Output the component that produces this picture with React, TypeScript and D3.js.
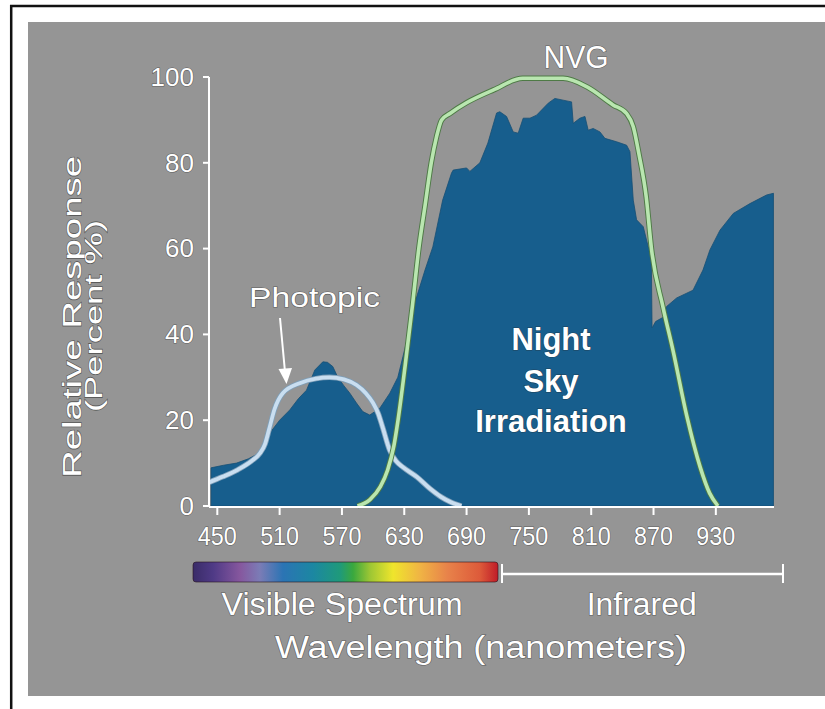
import React from "react";
import * as d3 from "d3";

// ---- data ----
const xTicks = [450, 510, 570, 630, 690, 750, 810, 870, 930];
const yTicks = [0, 20, 40, 60, 80, 100];

const skyNm = [444, 456, 468.5, 480, 491, 500.6, 510, 519.8, 528, 535.9, 543.9, 551.6, 556, 561.2, 566, 572, 577.6, 584, 590.1, 596.8, 606.5, 616.1, 623.8, 628.7, 636, 641, 650, 657.5, 667, 675.5, 677.1, 690, 693.2, 702.8, 710.5, 718.9, 722, 728.5, 734.9, 739.7, 744.5, 751, 757.4, 762.2, 768.6, 775, 783, 791.1, 792.7, 799.1, 804, 807.1, 811.9, 818.4, 823.2, 834.5, 844.1, 847.3, 850.5, 853.7, 860.1, 864.9, 867.8, 868.6, 872, 879.3, 882.6, 892.3, 908, 917.6, 924.3, 934, 946.8, 962.9, 978.9, 985.5];
const skyPct = [8.9, 9.5, 10, 11, 12.4, 17, 20, 22.4, 25, 27, 31.7, 33.6, 33.5, 32.5, 30, 28, 26.3, 24, 22, 21.2, 22.8, 26.3, 30, 34.8, 42, 48, 55, 60.4, 71.3, 77.6, 78.3, 78.8, 78, 80, 84.6, 91.6, 91.9, 90.8, 87.2, 86.9, 90.4, 90.4, 91.1, 92.3, 93.9, 95, 94.6, 94.2, 89.2, 90.4, 90.8, 87.6, 88, 87.2, 85.7, 84.9, 84.1, 82.6, 71.3, 66.7, 65.1, 60.4, 59, 41.5, 43, 44, 46.5, 48.5, 50.3, 55, 59.7, 64.3, 68.2, 70.5, 72.5, 72.9];

const photNm = [442, 455, 470, 483, 491, 496, 500, 505, 513, 530, 545, 558, 572, 584, 593, 600, 605, 609, 616, 622, 629, 642, 655, 665, 674, 685];
const photPct = [5.5, 6.8, 8.5, 10.5, 12.3, 14.5, 18, 22.5, 26.3, 28.7, 29.7, 30, 29.5, 28.2, 26.3, 24, 21.5, 18.5, 13, 10.5, 9, 6.8, 4, 2.2, 1, 0];

const nvgNm = [585, 597, 607, 614, 620, 624, 631, 638, 644, 650, 656, 661, 666, 674, 690, 716, 744, 783, 806, 831, 844, 850.5, 856, 863, 868, 879, 889, 902, 915, 924, 932];
const nvgPct = [0, 1.5, 4.5, 8.4, 14, 20, 33, 47, 60, 70, 80, 86, 90, 91.5, 94, 97, 99.7, 99.7, 97.7, 93.5, 91.5, 88.4, 82, 72, 60, 46.5, 36, 21, 9, 3, 0];

const spectrumStops = [
  [0, "#3a2c68"], [0.066, "#4f3a86"], [0.154, "#86579e"], [0.219, "#7b7cb6"],
  [0.295, "#2b74b4"], [0.393, "#1c87a2"], [0.482, "#1f9a7a"], [0.525, "#3aa83e"],
  [0.58, "#9cc634"], [0.656, "#efe52c"], [0.744, "#f0b444"], [0.833, "#e8834a"],
  [0.941, "#dd5a3a"], [1, "#c01c28"],
] as const;

const W = 825, H = 709;
const FONT = "'Liberation Sans', Arial, Helvetica, sans-serif";

export default function App() {
  const x = d3.scaleLinear().domain([442, 986]).range([209, 774]);
  const y = d3.scaleLinear().domain([0, 100]).range([506, 77]);

  const sky = skyNm.map((n, i) => [n, skyPct[i]] as [number, number]);
  const phot = photNm.map((n, i) => [n, photPct[i]] as [number, number]);
  const nvg = nvgNm.map((n, i) => [n, nvgPct[i]] as [number, number]);

  const area = d3.area<[number, number]>().x(d => x(d[0])).y0(y(0)).y1(d => y(d[1])).curve(d3.curveLinear);
  const line = d3.line<[number, number]>().x(d => x(d[0])).y(d => y(d[1])).curve(d3.curveMonotoneX);

  const txt = {
    fill: "#ffffff",
    stroke: "rgba(40,40,40,0.55)",
    strokeWidth: 1.2,
    paintOrder: "stroke" as const,
    fontFamily: FONT,
  };

  const axisColor = "#ffffff";
  const x0 = x(442), xEnd = x(986);

  return (
    <svg width={W} height={H} style={{ position: "absolute", left: 0, top: 0, display: "block" }}>
      <defs>
        <linearGradient id="spec" x1="0" x2="1" y1="0" y2="0">
          {spectrumStops.map(([o, c], i) => <stop key={i} offset={o} stopColor={c} />)}
        </linearGradient>
      </defs>
      <rect x={0} y={0} width={W} height={H} fill="#ffffff" />
      <rect x={28} y={22} width={W - 28} height={696 - 22} fill="#959595" />
      <line x1={10} x2={W} y1={6} y2={6} stroke="#111" strokeWidth={2.5} />
      <line x1={11.2} x2={11.2} y1={5} y2={H} stroke="#111" strokeWidth={2.5} />

      {/* night sky irradiation */}
      <path d={area(sky) || ""} fill="#175e8d" stroke="#164f75" strokeWidth={0.8} />

      {/* photopic */}
      <path d={line(phot) || ""} fill="none" stroke="#7f9fb8" strokeWidth={5.5} />
      <path d={line(phot) || ""} fill="none" stroke="#c9def0" strokeWidth={3.8} />

      {/* NVG */}
      <path d={line(nvg) || ""} fill="none" stroke="#4e7a46" strokeWidth={5.5} />
      <path d={line(nvg) || ""} fill="none" stroke="#b9e6b0" strokeWidth={3.6} />

      {/* axes */}
      <line x1={x0} x2={x0} y1={y(100)} y2={y(0) + 1} stroke={axisColor} strokeWidth={2} />
      <line x1={x0} x2={xEnd} y1={y(0) + 1} y2={y(0) + 1} stroke={axisColor} strokeWidth={2.2} />
      {yTicks.map(t => (
        <g key={t}>
          <line x1={x0 - 6} x2={x0} y1={y(t)} y2={y(t)} stroke={axisColor} strokeWidth={2} />
          <text {...txt} x={194} y={y(t)} dy="0.34em" textAnchor="end" fontSize={26}>{t}</text>
        </g>
      ))}
      {xTicks.map(t => (
        <g key={t}>
          <line x1={x(t)} x2={x(t)} y1={y(0) + 1} y2={y(0) + 9} stroke={axisColor} strokeWidth={2} />
          <text {...txt} x={x(t)} y={545} textAnchor="middle" fontSize={25} textLength={39} lengthAdjust="spacingAndGlyphs">{t}</text>
        </g>
      ))}

      {/* y axis title */}
      <g transform="translate(81,317) rotate(-90)">
        <text {...txt} x={0} y={0} textAnchor="middle" fontSize={26} textLength={322} lengthAdjust="spacingAndGlyphs">Relative Response</text>
      </g>
      <g transform="translate(102,316) rotate(-90)">
        <text {...txt} x={0} y={0} textAnchor="middle" fontSize={24} textLength={192} lengthAdjust="spacingAndGlyphs">(Percent %)</text>
      </g>

      {/* labels */}
      <text {...txt} x={576} y={68} textAnchor="middle" fontSize={31} textLength={65} lengthAdjust="spacingAndGlyphs">NVG</text>
      <text {...txt} x={314.5} y={307} textAnchor="middle" fontSize={28} textLength={131} lengthAdjust="spacingAndGlyphs">Photopic</text>
      <line x1={280} y1={318} x2={285} y2={372} stroke="#fff" strokeWidth={2} />
      <path d="M278.5,369 L292,368 L286.5,384 Z" fill="#fff" />

      <g fontWeight="bold">
        <text {...txt} x={551} y={350} textAnchor="middle" fontSize={31}>Night</text>
        <text {...txt} x={551} y={391.5} textAnchor="middle" fontSize={31}>Sky</text>
        <text {...txt} x={551} y={431.5} textAnchor="middle" fontSize={31}>Irradiation</text>
      </g>

      {/* spectrum bar */}
      <rect x={193} y={562} width={305} height={20} rx={3} fill="url(#spec)" stroke="rgba(40,20,30,0.6)" strokeWidth={1} />
      <line x1={502} x2={783} y1={574} y2={574} stroke="#fff" strokeWidth={2.6} />
      <line x1={502} x2={502} y1={564} y2={583} stroke="#fff" strokeWidth={2} />
      <line x1={783} x2={783} y1={564} y2={583} stroke="#fff" strokeWidth={2} />

      <text {...txt} x={342} y={615} textAnchor="middle" fontSize={31} textLength={241} lengthAdjust="spacingAndGlyphs">Visible Spectrum</text>
      <text {...txt} x={641.7} y={615} textAnchor="middle" fontSize={31} textLength={110} lengthAdjust="spacingAndGlyphs">Infrared</text>
      <text {...txt} x={481} y={658} textAnchor="middle" fontSize={31} textLength={412} lengthAdjust="spacingAndGlyphs">Wavelength (nanometers)</text>
    </svg>
  );
}
